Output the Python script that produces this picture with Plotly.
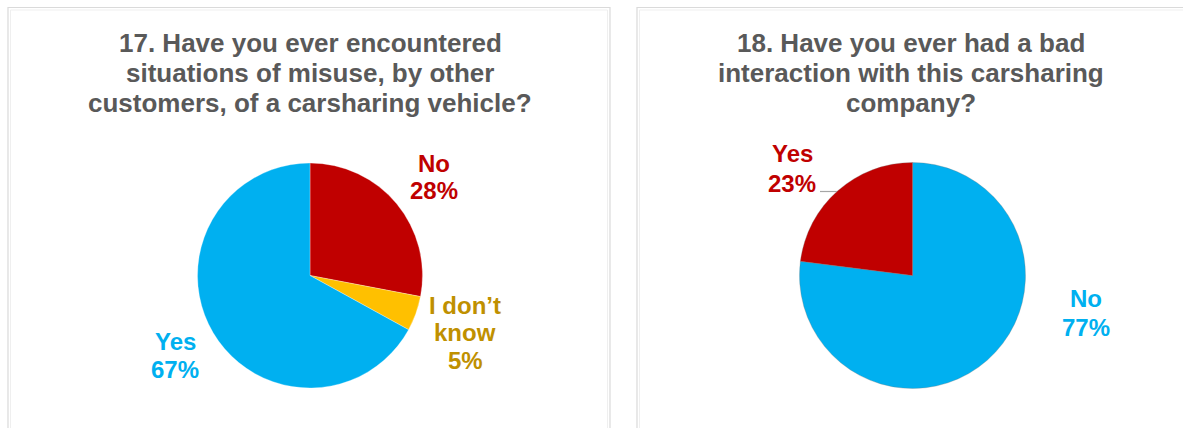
import plotly.graph_objects as go

# Survey results (percent of respondents)
q17_title = ["17. Have you ever encountered",
             "situations of misuse, by other",
             "customers, of a carsharing vehicle?"]
q17_labels = ["No", "I don\u2019t know", "Yes"]
q17_values = [28, 5, 67]

q18_title = ["18. Have you ever had a bad",
             "interaction with this carsharing",
             "company?"]
q18_labels = ["No", "Yes"]
q18_values = [77, 23]

W, H = 1183, 428
RED, BLUE, YELLOW = "#C00000", "#00B0F0", "#FFC000"
GOLD = "#BF9000"
TITLE_GRAY = "#595959"
FONT = "Liberation Sans, Arial, sans-serif"


def dom(cx, cy, r):
    """Pie domain (paper coords) for a pixel centre and radius."""
    return dict(x=[(cx - r) / W, (cx + r) / W],
                y=[(H - cy - r) / H, (H - cy + r) / H])


fig = go.Figure()

fig.add_trace(go.Pie(
    labels=q17_labels, values=q17_values, sort=False,
    direction="clockwise", rotation=0,
    marker=dict(colors=[RED, YELLOW, BLUE], line=dict(color="rgba(255,255,255,0.6)", width=0.5)),
    textinfo="none", showlegend=False, domain=dom(310, 275.5, 112.5),
))

fig.add_trace(go.Pie(
    labels=q18_labels, values=q18_values, sort=False,
    direction="clockwise", rotation=0,
    marker=dict(colors=[BLUE, RED], line=dict(color="rgba(120,120,120,0.5)", width=0.6)),
    textinfo="none", showlegend=False, domain=dom(912.5, 275.5, 113),
))

annotations = []


def add_lines(lines, x, ys, color, size):
    for line, y in zip(lines, ys):
        annotations.append(dict(
            x=x, y=y, xref="x", yref="y", text=line, showarrow=False,
            xanchor="center", yanchor="middle",
            font=dict(family=FONT, size=size, color=color, weight="bold"),
        ))


title_ys = [42.6, 72.6, 102.6]
add_lines(q17_title, 310, title_ys, TITLE_GRAY, 26)
add_lines(q18_title, 911, title_ys, TITLE_GRAY, 26)

# Slice labels for question 17
no17, idk17, yes17 = q17_values
add_lines([q17_labels[0], f"{no17}%"], 434, [163.5, 190.5], RED, 24)
add_lines(["I don\u2019t", "know", f"{idk17}%"], 465, [305, 332.5, 360.5], GOLD, 24)
add_lines([q17_labels[2], f"{yes17}%"], 175, [341, 369.5], BLUE, 24)

# Slice labels for question 18
no18, yes18 = q18_values
add_lines([q18_labels[1], f"{yes18}%"], 792, [153.5, 183], RED, 24)
add_lines([q18_labels[0], f"{no18}%"], 1086, [298, 327], BLUE, 24)

shapes = [
    # leader line for the "Yes" label
    dict(type="line", xref="x", yref="y", x0=820, x1=837, y0=191.5, y1=191.5,
         line=dict(color="#A6A6A6", width=1.2)),
]

# Panel frames
for x0, x1 in [(8, 610), (637, W + 5)]:
    shapes.append(dict(type="rect", xref="x", yref="y", x0=x0, x1=x1, y0=7.5, y1=H + 5,
                       line=dict(color="#DADADA", width=1.2), layer="below"))
    shapes.append(dict(type="rect", xref="x", yref="y", x0=x0 + 2.5, x1=x1 - 2.5, y0=10, y1=H + 5,
                       line=dict(color="#EFEFEF", width=1), layer="below"))

fig.update_layout(
    width=W, height=H,
    margin=dict(l=0, r=0, t=0, b=0),
    paper_bgcolor="white", plot_bgcolor="rgba(0,0,0,0)",
    xaxis=dict(range=[0, W], visible=False, fixedrange=True),
    yaxis=dict(range=[H, 0], visible=False, fixedrange=True),
    annotations=annotations, shapes=shapes,
)

fig.write_html("out.html")
